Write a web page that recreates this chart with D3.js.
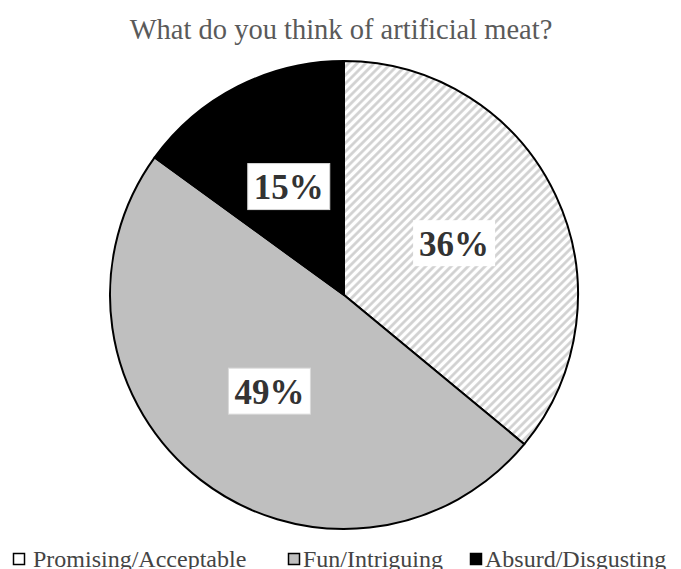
<!DOCTYPE html>
<html>
<head>
<meta charset="utf-8">
<script src="https://cdn.jsdelivr.net/npm/d3@7"></script>
<style>
  html, body { margin: 0; padding: 0; background: #fff; }
  svg { display: block; }
</style>
</head>
<body>
<div id="chart"></div>
<script>
// data
const categories = ["Promising/Acceptable", "Fun/Intriguing", "Absurd/Disgusting"];
const shares = [36, 49, 15];
const fills = ["url(#hatch)", "#bfbfbf", "#000000"];
const legendFills = ["#ffffff", "#bfbfbf", "#000000"];
const title = "What do you think of artificial meat?";

const width = 681, height = 569;
const cx = 344, cy = 295, r = 234;

const svg = d3.select("#chart").append("svg").attr("width", width).attr("height", height);

// diagonal hatching for the first slice
const pat = svg.append("defs").append("pattern").attr("id", "hatch").attr("patternUnits", "userSpaceOnUse")
    .attr("width", 6).attr("height", 6).attr("patternTransform", "rotate(45)");
pat.append("rect").attr("width", 6).attr("height", 6).attr("fill", "#fff");
pat.append("line").attr("x1", 1.5).attr("y1", 0).attr("x2", 1.5).attr("y2", 6).attr("stroke", "#cfcfcf").attr("stroke-width", 2.6);

svg.append("text").attr("x", 341).attr("y", 39).attr("text-anchor", "middle")
    .style("font", "28.5px 'Liberation Serif', 'Times New Roman', serif").style("fill", "#5a5a5a").text(title);

const pie = d3.pie().sort(null).value(d => d);
const arcs = pie(shares);
const arc = d3.arc().innerRadius(0).outerRadius(r);
const labelArc = d3.arc().innerRadius(r * 0.52).outerRadius(r * 0.52);

const g = svg.append("g").attr("transform", `translate(${cx},${cy})`);
g.selectAll("path").data(arcs).join("path")
    .attr("d", arc).attr("fill", (d, i) => fills[i])
    .attr("stroke", "#000").attr("stroke-width", 2).attr("stroke-linejoin", "round");

const lab = g.selectAll("g.lab").data(arcs).join("g").attr("class", "lab")
    .attr("transform", d => `translate(${labelArc.centroid(d)})`);
lab.append("rect").attr("x", -41).attr("y", -23).attr("width", 82).attr("height", 46)
    .attr("fill", "#fff").attr("stroke", (d, i) => i === 0 ? "none" : "#d9d9d9").attr("stroke-width", 1);
lab.append("text").attr("text-anchor", "middle").attr("dy", "0.36em")
    .style("font", "bold 35px 'Liberation Serif', 'Times New Roman', serif").style("fill", "#333")
    .text(d => d.data + "%");

// legend along the bottom
const legendX = [13, 288, 470];
const leg = svg.append("g").selectAll("g").data(categories).join("g")
    .attr("transform", (d, i) => `translate(${legendX[i]},553)`);
leg.append("rect").attr("x", 0.5).attr("y", 0.5).attr("width", 11).attr("height", 11)
    .attr("fill", (d, i) => legendFills[i]).attr("stroke", "#000").attr("stroke-width", 1.5);
leg.append("text").attr("x", (d, i) => i === 0 ? 20 : 15).attr("y", 13.5)
    .style("font", "24px 'Liberation Serif', 'Times New Roman', serif").style("fill", "#444").text(d => d);
</script>
</body>
</html>
